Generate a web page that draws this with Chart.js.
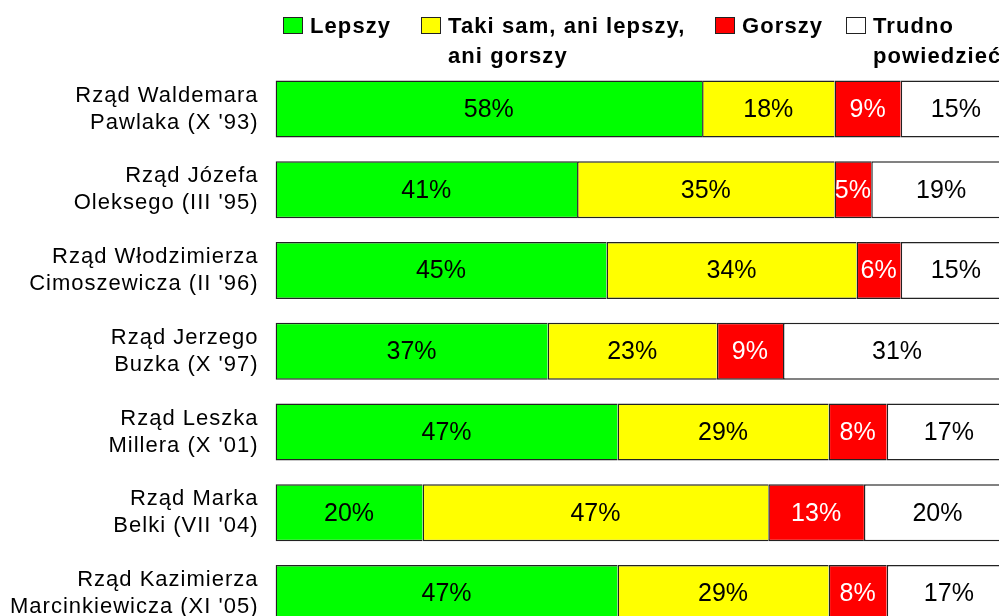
<!DOCTYPE html>
<html lang="pl">
<head>
<meta charset="UTF-8">
<title>Ocena rządów</title>
<script src="https://cdn.jsdelivr.net/npm/chart.js"></script>
<style>
    html, body { margin: 0; padding: 0; background: #fff; overflow: hidden; }
    #wrap { width: 999px; height: 616px; overflow: hidden; }
    canvas { display: block; }
</style>
</head>
<body>
<div id="wrap">
    <canvas id="chart" width="1030" height="678" style="width:1030px;height:678px"></canvas>
</div>
<script>
    // categories (two lines each)
    const categories = [
        ['Rząd Waldemara', "Pawlaka (X '93)"],
        ['Rząd Józefa', "Oleksego (III '95)"],
        ['Rząd Włodzimierza', "Cimoszewicza (II '96)"],
        ['Rząd Jerzego', "Buzka (X '97)"],
        ['Rząd Leszka', "Millera (X '01)"],
        ['Rząd Marka', "Belki (VII '04)"],
        ['Rząd Kazimierza', "Marcinkiewicza (XI '05)"]
    ];

    // segment widths
    const lepszy  = [58, 41, 45, 37, 46.5, 20, 46.5];
    const takiSam = [18, 35, 34, 23, 28.7, 47, 28.7];
    const gorszy  = [9, 5, 6, 9, 7.9, 13, 7.9];
    const trudno  = [15, 19, 15, 31, 16.9, 20, 16.9];

    // printed labels
    const lepszyLbl  = ['58%', '41%', '45%', '37%', '47%', '20%', '47%'];
    const takiSamLbl = ['18%', '35%', '34%', '23%', '29%', '47%', '29%'];
    const gorszyLbl  = ['9%', '5%', '6%', '9%', '8%', '13%', '8%'];
    const trudnoLbl  = ['15%', '19%', '15%', '31%', '17%', '20%', '17%'];

    const legendLines = [
        ['Lepszy'],
        ['Taki sam, ani lepszy,', 'ani gorszy'],
        ['Gorszy'],
        ['Trudno', 'powiedzieć']
    ];

    const FONT = "'Liberation Sans', Arial, sans-serif";

    function makeSet(label, data, color, lbls, textColor) {
        return {
            label: label,
            data: data,
            backgroundColor: color,
            borderColor: '#222',
            borderWidth: { top: 1.5, bottom: 1.5, left: 1.5, right: 0 },
            borderSkipped: false,
            valueLabels: lbls,
            valueColor: textColor
        };
    }

    // a bit of letter spacing for the tick labels only
    const spacingPlugin = {
        id: 'spacing',
        beforeDraw(chart) { chart.ctx.letterSpacing = '1px'; },
        beforeDatasetsDraw(chart) { chart.ctx.letterSpacing = '0px'; }
    };

    const valuePlugin = {
        id: 'values',
        afterDatasetsDraw(chart) {
            const ctx = chart.ctx;
            ctx.save();
            ctx.letterSpacing = '0px';
            ctx.font = '25px ' + FONT;
            ctx.textAlign = 'center';
            ctx.textBaseline = 'middle';
            chart.data.datasets.forEach((ds, i) => {
                chart.getDatasetMeta(i).data.forEach((bar, j) => {
                    const p = bar.getProps(['x', 'y', 'base'], true);
                    ctx.fillStyle = ds.valueColor;
                    ctx.fillText(ds.valueLabels[j], (p.x + p.base) / 2, p.y + 1);
                });
            });
            ctx.restore();
        }
    };

    const legendPlugin = {
        id: 'customLegend',
        afterDraw(chart) {
            const ctx = chart.ctx;
            const boxX = [283, 421, 715, 846];
            ctx.save();
            ctx.font = 'bold 22px ' + FONT;
            ctx.letterSpacing = '1.1px';
            ctx.textAlign = 'left';
            ctx.textBaseline = 'alphabetic';
            chart.data.datasets.forEach((ds, i) => {
                const x = boxX[i];
                ctx.fillStyle = ds.backgroundColor;
                ctx.fillRect(x, 17, 20, 17);
                ctx.strokeStyle = '#222';
                ctx.lineWidth = 1;
                ctx.strokeRect(x + 0.5, 17.5, 19, 16);
                ctx.fillStyle = '#000';
                legendLines[i].forEach((line, k) => {
                    ctx.fillText(line, x + 27, 33 + k * 30);
                });
            });
            ctx.restore();
        }
    };

    new Chart(document.getElementById('chart'), {
        type: 'bar',
        data: {
            labels: categories,
            datasets: [
                makeSet('Lepszy', lepszy, '#00ff00', lepszyLbl, '#000'),
                makeSet('Taki sam, ani lepszy, ani gorszy', takiSam, '#ffff00', takiSamLbl, '#000'),
                makeSet('Gorszy', gorszy, '#ff0000', gorszyLbl, '#fff'),
                makeSet('Trudno powiedzieć', trudno, '#ffffff', trudnoLbl, '#000')
            ]
        },
        options: {
            indexAxis: 'y',
            responsive: false,
            animation: false,
            events: [],
            categoryPercentage: 1,
            barPercentage: 0.706,
            layout: { padding: { top: 68.6, bottom: 16.5, left: 0, right: 19 } },
            plugins: {
                legend: { display: false },
                tooltip: { enabled: false }
            },
            scales: {
                x: {
                    stacked: true,
                    min: 0,
                    max: 100,
                    display: false
                },
                y: {
                    stacked: true,
                    grid: { display: false, drawTicks: false },
                    border: { display: false },
                    ticks: {
                        color: '#000',
                        padding: 17,
                        font: { family: FONT, size: 22, lineHeight: 1.23 }
                    },
                    afterFit(scale) { scale.width = 275.5; }
                }
            }
        },
        plugins: [spacingPlugin, valuePlugin, legendPlugin]
    });
</script>
</body>
</html>
